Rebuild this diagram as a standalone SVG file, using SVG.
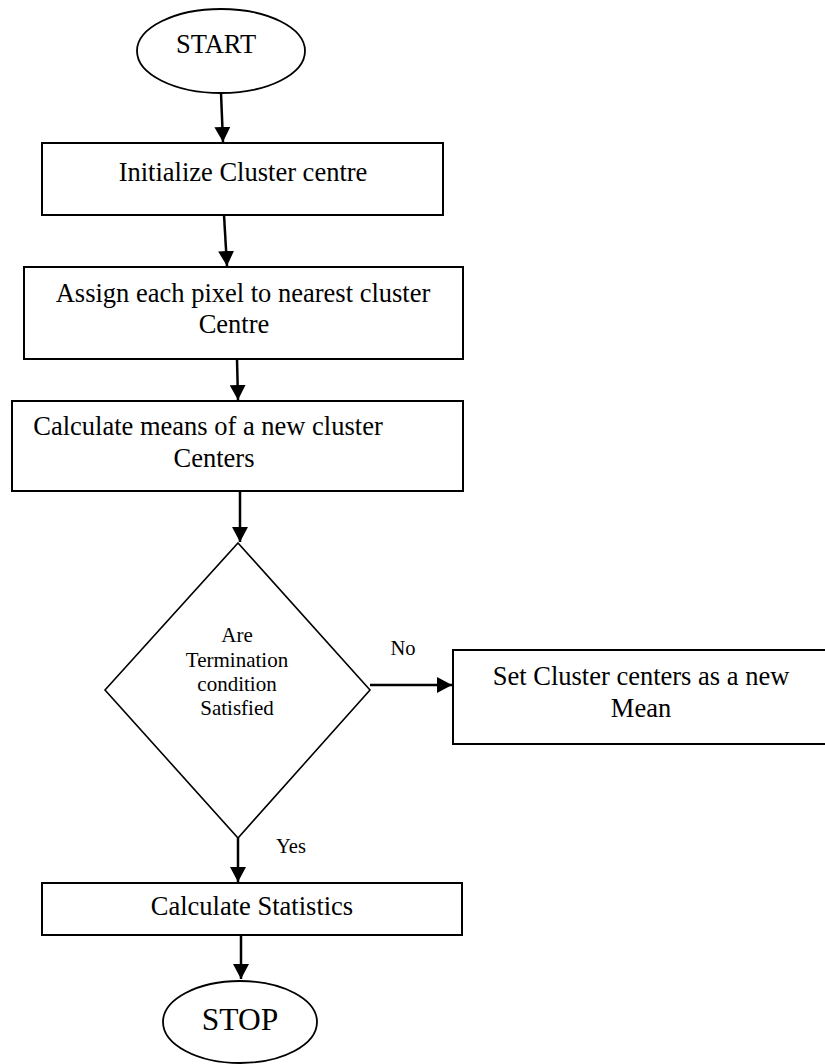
<svg xmlns="http://www.w3.org/2000/svg" width="825" height="1064" viewBox="0 0 825 1064" font-family="'Liberation Serif', 'DejaVu Serif', serif">
  <style>
    .box { fill: #fff; stroke: #000; stroke-width: 2; }
    .term { fill: #fff; stroke: #000; stroke-width: 1.8; }
    .dec { fill: #fff; stroke: #000; stroke-width: 1.6; }
    .edge { fill: none; stroke: #000; stroke-width: 2.5; marker-end: url(#arrow); }
    text { font-family: 'Liberation Serif', 'DejaVu Serif', serif; fill: #000; text-anchor: middle; }
    .t { font-size: 26.5px; }
    .s { font-size: 21px; }
    .lbl { font-size: 20.5px; }
  </style>
  <defs>
    <marker id="arrow" markerUnits="userSpaceOnUse" markerWidth="16" markerHeight="16" refX="15" refY="8" orient="auto">
      <path d="M0,0 L15,8 L0,16 z" fill="#000"/>
    </marker>
  </defs>
  <rect width="825" height="1064" fill="#fff"/>

  <!-- flow connectors -->
  <g id="connectors">
    <line class="edge" x1="221" y1="93" x2="223" y2="142"/>
    <line class="edge" x1="224" y1="215" x2="227" y2="266"/>
    <line class="edge" x1="237" y1="359" x2="238" y2="400"/>
    <line class="edge" x1="240" y1="491" x2="240" y2="542"/>
    <line class="edge" x1="370" y1="685" x2="452" y2="685"/>
    <line class="edge" x1="238" y1="838" x2="238" y2="882"/>
    <line class="edge" x1="241" y1="935" x2="241" y2="979"/>
  </g>

  <g id="start">
    <ellipse class="term" cx="221" cy="51" rx="84" ry="42"/>
    <text class="t" x="216" y="53">START</text>
  </g>

  <g id="init">
    <rect class="box" x="42" y="143" width="401" height="72"/>
    <text class="t" x="243" y="181">Initialize Cluster centre</text>
  </g>

  <g id="assign">
    <rect class="box" x="24" y="267" width="439" height="92"/>
    <text class="t" x="243" y="302">Assign each pixel to nearest cluster</text>
    <text class="t" x="234" y="333">Centre</text>
  </g>

  <g id="means">
    <rect class="box" x="12" y="401" width="451" height="90"/>
    <text class="t" x="208" y="435">Calculate means of a new cluster</text>
    <text class="t" x="214" y="467">Centers</text>
  </g>

  <g id="check">
    <polygon class="dec" points="238,543 370,690 238,838 105,690"/>
    <text class="s" x="237" y="642">Are</text>
    <text class="s" x="237" y="667">Termination</text>
    <text class="s" x="237" y="691">condition</text>
    <text class="s" x="237" y="715">Satisfied</text>
  </g>

  <g id="label-no">
    <text class="lbl" x="403" y="655">No</text>
  </g>
  <g id="label-yes">
    <text class="lbl" x="291" y="853">Yes</text>
  </g>

  <g id="update">
    <rect class="box" x="453" y="650" width="380" height="94"/>
    <text class="t" x="641" y="685">Set Cluster centers as a new</text>
    <text class="t" x="641" y="717">Mean</text>
  </g>

  <g id="stats">
    <rect class="box" x="42" y="883" width="420" height="52"/>
    <text class="t" x="252" y="915">Calculate Statistics</text>
  </g>

  <g id="stop">
    <ellipse class="term" cx="240" cy="1022" rx="77" ry="41"/>
    <text x="240" y="1030" style="font-size:31.5px">STOP</text>
  </g>
</svg>
